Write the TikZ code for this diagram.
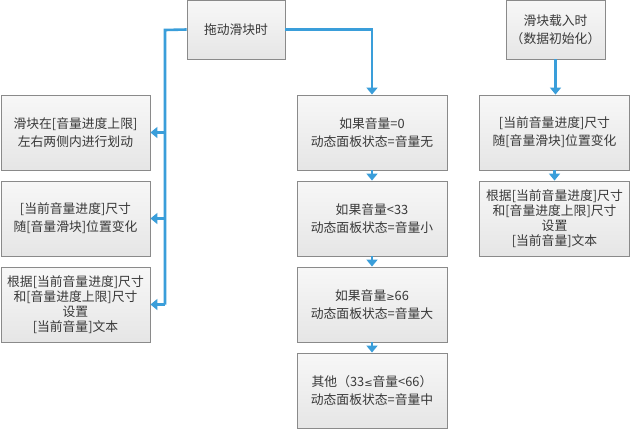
\documentclass[tikz,border=0pt]{standalone}
\usepackage{fontspec}
\setmainfont{Noto Sans CJK SC}
\newfontfamily\symfont{DejaVu Sans}
\usetikzlibrary{arrows.meta}
\definecolor{lineblue}{HTML}{3A9EDA}
\definecolor{boxborder}{HTML}{8A8A8A}
\definecolor{txt}{HTML}{383838}
\tikzset{
  box/.style={draw=boxborder, line width=0.9pt, top color=white!97!black, bottom color=white!90!black,
    minimum width=150pt, minimum height=75pt, align=center, text=txt, inner sep=0pt,
    font=\fontsize{12.8pt}{18pt}\selectfont},
  tight/.style={font=\fontsize{12.8pt}{15pt}\selectfont},
  conn/.style={draw=lineblue, line width=2.6pt},
  arr/.style={conn, -{Triangle[width=11pt,length=7pt]}},
}
\begin{document}
\begin{tikzpicture}[x=1pt,y=-1pt]
\useasboundingbox[fill=white] (0,0) rectangle (630,429);
% top boxes
\node[box, minimum width=98pt, minimum height=59pt] (t1) at (236,29.5) {拖动滑块时};
\node[box, minimum width=99pt, minimum height=59pt] (t2) at (555.5,29.5) {滑块载入时\\（数据初始化）};
% left column
\node[box, minimum width=149pt] (l1) at (75.5,132.5) {滑块在[音量进度上限]\\左右两侧内进行划动};
\node[box, minimum width=149pt] (l2) at (75.5,218.5) {[当前音量进度]尺寸\\随[音量滑块]位置变化};
\node[box, tight, minimum width=149pt] (l3) at (75.5,304.5) {根据[当前音量进度]尺寸\\和[音量进度上限]尺寸\\设置\\{}[当前音量]文本};
% middle column
\node[box] (m1) at (372,132.5) {如果音量=0\\动态面板状态=音量无};
\node[box] (m2) at (372,218.5) {如果音量<33\\动态面板状态=音量小};
\node[box] (m3) at (372,304.5) {如果音量{\symfont\fontsize{10pt}{10pt}\selectfont ≥}66\\动态面板状态=音量大};
\node[box] (m4) at (372,390.5) {其他（33{\symfont\fontsize{10pt}{10pt}\selectfont ≤}音量<66）\\动态面板状态=音量中};
% right column
\node[box] (r1) at (554.5,132.5) {[当前音量进度]尺寸\\随[音量滑块]位置变化};
\node[box, tight] (r2) at (554.5,218.5) {根据[当前音量进度]尺寸\\和[音量进度上限]尺寸\\设置\\{}[当前音量]文本};
% connectors left
\coordinate (j) at (165,30);
\draw[conn] (t1.west) -- (j) -- (j |- l3.east);
\draw[arr] (j |- l1.east) -- (l1.east);
\draw[arr] (j |- l2.east) -- (l2.east);
\draw[arr] (j |- l3.east) -- (l3.east);
% connectors middle
\draw[arr] (t1.east) -| (m1.north);
\draw[arr] (m1.south) -- (m2.north);
\draw[arr] (m2.south) -- (m3.north);
\draw[arr] (m3.south) -- (m4.north);
% connectors right
\draw[arr] (t2.south) -- (t2.south |- r1.north);
\draw[arr] (r1.south) -- (r1.south |- r2.north);
\end{tikzpicture}
\end{document}
